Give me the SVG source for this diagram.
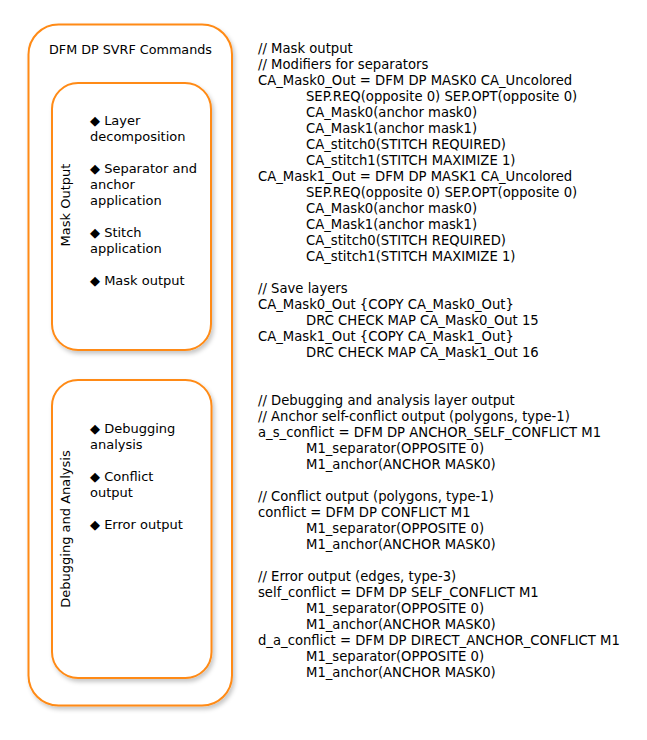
<svg xmlns="http://www.w3.org/2000/svg" width="647" height="740" viewBox="0 0 647 740">
<style>
.box{fill:#fff;stroke:#FF8A14;stroke-width:2;filter:url(#sh)}
.t{font-family:"DejaVu Sans",Verdana,sans-serif;font-size:13px;fill:#000}
.h{font-size:12.75px}
.c{font-family:"DejaVu Sans",Tahoma,sans-serif;font-size:13.2px;fill:#000}
</style>
<defs>
<filter id="sh" x="-10%" y="-10%" width="130%" height="130%">
<feDropShadow dx="2" dy="3" stdDeviation="2" flood-color="#000" flood-opacity="0.22"/>
</filter>
</defs>
<rect width="647" height="740" fill="#fff"/>
<g id="outer">
<rect class="box" x="28.5" y="24.5" width="203.5" height="681" rx="30"/>
<text class="t h" x="49" y="54">DFM DP SVRF Commands</text>
</g>
<g id="mask-output">
<rect class="box" x="52" y="83" width="159" height="267" rx="26"/>
<text class="t" transform="translate(70,205) rotate(-90)" text-anchor="middle">Mask Output</text>
<text class="t" x="90" y="125">◆ Layer</text>
<text class="t" x="90" y="141">decomposition</text>
<text class="t" x="90" y="173">◆ Separator and</text>
<text class="t" x="90" y="189">anchor</text>
<text class="t" x="90" y="205">application</text>
<text class="t" x="90" y="237">◆ Stitch</text>
<text class="t" x="90" y="253">application</text>
<text class="t" x="90" y="285">◆ Mask output</text>
</g>
<g id="debugging">
<rect class="box" x="52" y="380" width="159.5" height="298" rx="26"/>
<text class="t" transform="translate(70,529) rotate(-90)" text-anchor="middle">Debugging and Analysis</text>
<text class="t" x="90" y="433">◆ Debugging</text>
<text class="t" x="90" y="449">analysis</text>
<text class="t" x="90" y="481">◆ Conflict</text>
<text class="t" x="90" y="497">output</text>
<text class="t" x="90" y="529">◆ Error output</text>
</g>
<g id="code">
<text class="c" x="258" y="53">// Mask output</text>
<text class="c" x="258" y="69">// Modifiers for separators</text>
<text class="c" x="258" y="85">CA_Mask0_Out = DFM DP MASK0 CA_Uncolored</text>
<text class="c" x="306" y="101">SEP.REQ(opposite 0) SEP.OPT(opposite 0)</text>
<text class="c" x="306" y="117">CA_Mask0(anchor mask0)</text>
<text class="c" x="306" y="133">CA_Mask1(anchor mask1)</text>
<text class="c" x="306" y="149">CA_stitch0(STITCH REQUIRED)</text>
<text class="c" x="306" y="165">CA_stitch1(STITCH MAXIMIZE 1)</text>
<text class="c" x="258" y="181">CA_Mask1_Out = DFM DP MASK1 CA_Uncolored</text>
<text class="c" x="306" y="197">SEP.REQ(opposite 0) SEP.OPT(opposite 0)</text>
<text class="c" x="306" y="213">CA_Mask0(anchor mask0)</text>
<text class="c" x="306" y="229">CA_Mask1(anchor mask1)</text>
<text class="c" x="306" y="245">CA_stitch0(STITCH REQUIRED)</text>
<text class="c" x="306" y="261">CA_stitch1(STITCH MAXIMIZE 1)</text>
<text class="c" x="258" y="293">// Save layers</text>
<text class="c" x="258" y="309">CA_Mask0_Out {COPY CA_Mask0_Out}</text>
<text class="c" x="306" y="325">DRC CHECK MAP CA_Mask0_Out 15</text>
<text class="c" x="258" y="341">CA_Mask1_Out {COPY CA_Mask1_Out}</text>
<text class="c" x="306" y="357">DRC CHECK MAP CA_Mask1_Out 16</text>
<text class="c" x="258" y="405">// Debugging and analysis layer output</text>
<text class="c" x="258" y="421">// Anchor self-conflict output (polygons, type-1)</text>
<text class="c" x="258" y="437">a_s_conflict = DFM DP ANCHOR_SELF_CONFLICT M1</text>
<text class="c" x="306" y="453">M1_separator(OPPOSITE 0)</text>
<text class="c" x="306" y="469">M1_anchor(ANCHOR MASK0)</text>
<text class="c" x="258" y="501">// Conflict output (polygons, type-1)</text>
<text class="c" x="258" y="517">conflict = DFM DP CONFLICT M1</text>
<text class="c" x="306" y="533">M1_separator(OPPOSITE 0)</text>
<text class="c" x="306" y="549">M1_anchor(ANCHOR MASK0)</text>
<text class="c" x="258" y="581">// Error output (edges, type-3)</text>
<text class="c" x="258" y="597">self_conflict = DFM DP SELF_CONFLICT M1</text>
<text class="c" x="306" y="613">M1_separator(OPPOSITE 0)</text>
<text class="c" x="306" y="629">M1_anchor(ANCHOR MASK0)</text>
<text class="c" x="258" y="645">d_a_conflict = DFM DP DIRECT_ANCHOR_CONFLICT M1</text>
<text class="c" x="306" y="661">M1_separator(OPPOSITE 0)</text>
<text class="c" x="306" y="677">M1_anchor(ANCHOR MASK0)</text>
</g>
</svg>
